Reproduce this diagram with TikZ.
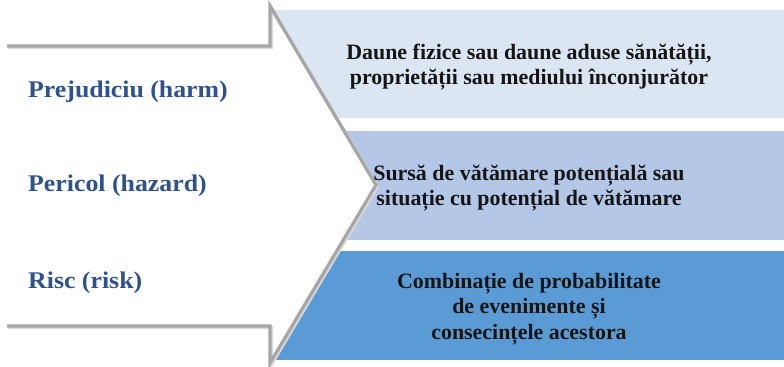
\documentclass[tikz,border=0pt]{standalone}
\usepackage{fontspec}
\setmainfont{Liberation Serif}
\newfontfamily\leftfont{Liberation Serif}[FakeStretch=1.08]
\definecolor{bandA}{HTML}{DCE6F2}
\definecolor{bandB}{HTML}{B4C7E7}
\definecolor{bandC}{HTML}{5B9BD5}
\definecolor{outlinegray}{HTML}{A6A6A6}
\definecolor{shadowgray}{HTML}{D9D9D9}
\definecolor{termblue}{HTML}{2F528F}
\definecolor{deftext}{HTML}{151515}
\tikzset{
  band/.style={draw=none},
  term/.style={anchor=base west, inner sep=0pt, text=termblue, font=\leftfont\bfseries\fontsize{24}{28}\selectfont},
  defn/.style={align=center, inner sep=0pt, text=deftext, font=\bfseries\fontsize{22}{25.5}\selectfont},
  arrowline/.style={draw=outlinegray, line width=3.2bp, line join=miter},
  arrowshadow/.style={draw=shadowgray, line width=3bp, line join=miter}
}
\begin{document}
\begin{tikzpicture}[x=1bp,y=-1bp]
\useasboundingbox (0,0) rectangle (784,366);
% bands
\fill[bandA] (272,10) rectangle (784,118);
\fill[bandB] (272,131) rectangle (784,240);
\fill[bandC] (272,251) rectangle (784,360);
% arrow points
\coordinate (tl) at (7,46);
\coordinate (tn) at (270,46);
\coordinate (tv) at (270,6);
\coordinate (tip) at (376,185);
\coordinate (bv) at (270,363);
\coordinate (bn) at (270,326);
\coordinate (bl) at (7,326);
% arrow fill
\fill[white] (tl) -- (tn) -- (tv) -- (tip) -- (bv) -- (bn) -- (bl) -- cycle;
% shadow and outline
\draw[arrowshadow] ([shift={(1.5,1.5)}]tl) -- ([shift={(1.5,1.5)}]tn) -- ([shift={(1.5,1.5)}]tv) -- ([shift={(1.5,1.5)}]tip) -- ([shift={(1.5,1.5)}]bv) -- ([shift={(1.5,1.5)}]bn) -- ([shift={(1.5,1.5)}]bl);
\draw[arrowline] (tl) -- (tn) -- (tv) -- (tip) -- (bv) -- (bn) -- (bl);
% left terms
\node[term] (harm) at (28,97) {Prejudiciu (harm)};
\node[term] (hazard) at (28,191) {Pericol (hazard)};
\node[term] (risk) at (28,288) {Risc (risk)};
% definitions
\node[defn] (dharm) at (529,67) {Daune fizice sau daune aduse sănătății,\\proprietății sau mediului înconjurător};
\node[defn] (dhazard) at (529,188) {Sursă de vătămare potențială sau\\situație cu potențial de vătămare};
\node[defn] (drisk) at (529,309) {Combinație de probabilitate\\de evenimente și\\consecințele acestora};
\end{tikzpicture}
\end{document}
